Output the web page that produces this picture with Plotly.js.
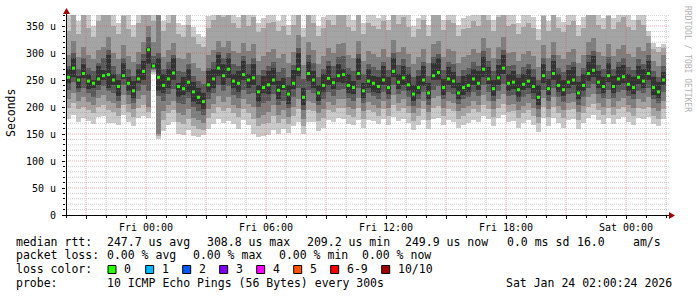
<!DOCTYPE html>
<html><head><meta charset="utf-8">
<script src="https://cdn.plot.ly/plotly-3.0.1.min.js"></script>
<style>html,body{margin:0;padding:0;background:#fff;}#chart{width:697px;height:297px;}</style>
</head><body><div id="chart"></div>
<script>
// time grid: Thu 22 Jan 2026 20:00 onwards, 15-minute consolidated steps
const startUTC = Date.UTC(2026, 0, 22, 20, 0, 0);
const stepMinutes = 15;

const median = [
255,272,250,262,248,244,252,258,260,250,238,258,244,230,252,266,
306,276,255,240,252,263,238,234,246,228,218,210,241,252,272,258,
270,248,244,260,250,254,228,236,241,250,231,238,224,244,270,218,
262,250,226,240,253,245,258,260,240,236,262,230,248,244,238,250,
236,266,246,254,241,224,236,250,226,258,264,236,252,248,226,236,
240,252,244,270,252,234,254,272,244,246,232,242,248,238,218,258,
234,262,240,232,246,250,226,240,262,268,246,238,258,238,252,256,
242,236,255,248,262,236,228,250];

const ping1 = [
178,186,172,180,174,168,182,184,170,170,166,186,172,164,180,184,
180,262,140,156,166,172,150,148,158,146,144,148,160,168,178,170,
174,168,160,176,166,150,144,146,148,158,150,160,152,164,172,150,
172,172,156,162,176,172,180,178,168,166,176,162,176,174,168,178,
166,182,174,178,170,158,166,176,160,178,180,166,176,172,162,166,
170,176,172,184,178,164,180,186,172,174,162,170,176,166,154,180,
164,180,170,162,176,178,160,170,180,186,176,168,180,168,178,182,
172,166,180,178,182,168,164,178];
const ping2 = [
198,208,196,200,194,188,200,204,194,190,184,204,190,182,198,204,
190,265,146,176,188,194,172,168,178,164,160,158,180,188,200,192,
198,188,182,196,188,178,164,168,170,184,170,178,168,184,196,164,
194,192,174,180,194,190,198,198,186,182,198,178,194,190,184,196,
184,204,192,198,188,174,184,196,176,198,202,184,196,192,178,184,
188,196,190,204,196,182,198,206,190,192,180,188,194,184,170,200,
182,200,188,180,194,196,176,188,200,206,194,186,198,186,196,200,
190,184,198,196,200,184,178,196];
const ping3 = [
214,226,212,218,210,204,216,222,212,208,198,222,206,196,214,222,
200,268,150,192,204,212,188,186,196,180,176,170,196,206,220,210,
218,204,198,214,206,200,180,186,190,204,186,194,182,200,214,178,
212,208,188,196,210,204,214,214,200,196,216,192,210,204,198,212,
198,222,208,214,202,188,198,212,190,216,220,198,212,208,192,198,
202,212,204,222,212,196,214,224,204,206,194,202,208,198,182,216,
196,218,202,194,208,210,190,202,218,224,208,200,214,200,212,216,
204,198,214,210,218,198,192,212];
const ping4 = [
232,246,228,236,226,218,232,238,230,226,212,240,222,208,230,240,
230,270,220,212,224,234,208,206,216,200,192,186,214,226,240,230,
238,222,216,232,224,226,200,208,212,224,204,212,198,218,236,194,
232,226,204,214,228,220,232,234,216,212,236,208,226,220,214,228,
214,240,224,230,218,202,214,228,204,232,238,214,228,224,206,214,
218,228,220,240,228,212,230,242,220,222,210,218,224,214,196,232,
212,236,218,210,224,226,204,218,236,242,224,216,232,216,228,232,
220,214,230,226,236,214,208,228];
const ping5 = [
244,256,236,254,234,236,240,250,236,240,220,252,230,216,244,250,
280,273,230,226,236,250,218,222,228,210,206,196,228,236,258,240,
254,236,228,250,236,240,210,226,224,240,214,232,206,234,258,204,
248,236,212,228,240,234,246,244,226,224,250,216,236,228,226,240,
224,256,234,240,230,212,224,238,214,250,250,222,240,236,214,222,
228,240,232,256,242,220,240,262,230,234,218,232,236,226,204,244,
222,250,228,220,236,240,214,230,248,256,236,226,246,226,240,244,
230,224,242,236,250,222,216,240];
const ping6 = [
270,290,258,280,262,250,276,268,296,262,250,282,256,248,270,286,
312,282,290,262,270,290,244,256,270,246,236,226,266,270,296,280,
290,262,266,286,262,280,240,258,266,272,248,254,240,268,300,236,
284,266,240,262,276,254,280,270,262,248,290,244,270,258,256,276,
256,290,262,276,262,240,258,276,244,282,290,252,274,264,244,258,
262,270,266,292,274,250,278,296,262,266,254,262,270,256,240,280,
252,286,262,250,268,274,246,262,284,294,266,256,282,258,274,278,
262,256,276,270,286,256,246,264];
const ping7 = [
276,300,270,290,272,266,282,290,306,276,262,290,270,258,280,298,
330,295,300,270,284,296,266,264,280,258,248,242,272,284,302,290,
300,280,276,294,280,290,260,268,276,284,264,272,256,278,310,252,
296,282,256,270,286,276,292,294,272,266,298,262,280,274,268,284,
268,300,278,288,274,256,268,284,258,292,298,268,284,280,258,268,
272,284,276,304,286,266,288,306,276,278,262,274,280,270,250,290,
266,296,272,264,278,284,258,272,296,304,278,270,292,270,284,290,
274,268,288,280,296,266,256,276];
const ping8 = [
296,322,292,312,296,288,306,312,330,300,288,314,294,284,302,320,
350,320,372,292,306,318,290,288,300,282,272,266,296,306,322,312,
322,304,300,318,304,316,286,294,302,308,290,298,282,302,334,278,
320,306,280,294,310,300,316,318,296,290,322,286,304,298,292,308,
292,324,302,312,298,280,292,308,282,316,322,292,308,304,282,292,
296,308,300,328,310,290,312,330,300,302,286,298,304,294,274,314,
290,320,296,288,302,308,282,296,320,328,302,294,316,294,308,314,
298,292,312,304,318,286,276,296];
const ping9 = [
340,372,336,370,346,330,360,374,390,350,336,368,344,330,356,380,
390,360,390,340,356,374,336,330,352,330,316,312,346,362,380,366,
374,356,346,370,350,366,338,346,356,358,340,350,334,352,384,330,
372,356,332,346,362,352,370,372,348,340,376,336,356,350,344,360,
342,378,354,366,348,330,344,362,332,372,378,342,362,356,332,344,
346,360,350,384,362,340,366,386,350,354,336,348,356,346,324,368,
340,376,346,338,352,360,332,346,376,384,352,344,368,344,358,366,
348,342,362,352,332,308,302,310];
const ping10 = [
372,400,360,390,372,350,380,395,420,378,356,392,374,352,384,410,
400,380,400,360,380,400,356,352,374,348,336,330,368,384,410,390,
400,376,366,392,372,388,356,364,378,380,360,370,352,376,410,346,
398,380,350,366,386,374,392,396,370,362,400,356,380,372,364,384,
362,404,376,390,370,350,364,384,352,396,402,362,384,378,352,364,
368,382,372,410,386,362,390,412,372,376,356,370,378,366,344,392,
360,398,366,358,374,382,352,366,398,408,374,364,390,364,380,388,
370,362,384,372,340,318,312,316];

const yTickVals = [0, 50, 100, 150, 200, 250, 300, 350];
const yTickText = ['0', '50 u', '100 u', '150 u', '200 u', '250 u', '300 u', '350 u'];
const xTickHours = [1, 4, 7, 10, 13, 16, 19, 22, 25, 28];
const xTickText = ['', 'Fri 00:00', '', 'Fri 06:00', '', 'Fri 12:00', '', 'Fri 18:00', '', 'Sat 00:00'];

const legendLines = [
  [['median rtt:', 16], ['247.7 us avg', 107], ['308.8 us max', 207], ['209.2 us min', 307], ['249.9 us now', 405], ['0.0 ms sd', 507], ['16.0', 577], ['am/s', 633]],
  [['packet loss:', 16], ['0.00 % avg', 107], ['0.00 % max', 193], ['0.00 % min', 279], ['0.00 % now', 362]],
  [['loss color:', 16]],
  [['probe:', 16], ['10 ICMP Echo Pings (56 Bytes) every 300s', 107], ['Sat Jan 24 02:00:24 2026', 506]]
];
const lossLabels = ['0', '1', '2', '3', '4', '5', '6-9', '10/10'];
const lossColors = ['#26ff00', '#00b8ff', '#0059ff', '#7e00ff', '#ff00ff', '#ff5500', '#ff0000', '#a10000'];
const lossSwatchX = [108, 145.7, 182.7, 219.7, 256.7, 293.7, 330.7, 381.7];

const smokeColors = ['#cacaca', '#a4a4a4', '#7e7e7e', '#585858', '#323232'];

// ---- layout geometry ----
const W = 697, H = 297, L = 66, R = 669, T = 15, B = 215;
const px = x => (x - L) / (R - L);
const py = y => (B - y) / (B - T);
const HOUR = 3600000;
const stepMs = stepMinutes * 60000;
const xs = median.map((_, i) => startUTC + i * stepMs + stepMs / 2);

const lows = [ping1, ping2, ping3, ping4, ping5];
const highs = [ping10, ping9, ping8, ping7, ping6];
const traces = lows.map((lo, k) => ({
  type: 'bar', x: xs, base: lo, y: lo.map((v, i) => highs[k][i] - v),
  width: stepMs, marker: {color: smokeColors[k], line: {width: 0}},
  hoverinfo: 'skip', showlegend: false
}));
traces.push({
  type: 'scatter', mode: 'markers', x: xs, y: median,
  marker: {symbol: 'square', size: 3, color: '#26ff00', line: {width: 0}},
  showlegend: false, hoverinfo: 'skip'
});

const shapes = [];
const xEnd = startUTC + (R - L) / 20 * HOUR;
for (let h = 1; h <= 30; h++) {
  const red = (h % 3 === 1);
  shapes.push({type: 'line', layer: 'above', xref: 'x', yref: 'paper', x0: startUTC + h * HOUR, x1: startUTC + h * HOUR, y0: 0, y1: 1,
    line: {color: red ? 'rgba(220,70,70,0.45)' : 'rgba(150,150,150,0.5)', width: 1, dash: '1px,1px'}});
}
for (let v = 10; v <= 370; v += 10) {
  const red = (v % 50 === 0);
  shapes.push({type: 'line', layer: 'above', xref: 'paper', yref: 'y', x0: 0, x1: 1, y0: v, y1: v,
    line: {color: red ? 'rgba(220,70,70,0.45)' : 'rgba(150,150,150,0.5)', width: 1, dash: '1px,1px'}});
}
// axis extensions and arrows
shapes.push({type: 'line', layer: 'above', xref: 'paper', yref: 'paper', x0: px(66.5), x1: px(66.5), y0: py(215), y1: py(11), line: {color: '#000', width: 1}});
shapes.push({type: 'line', layer: 'above', xref: 'paper', yref: 'paper', x0: px(62), x1: px(670), y0: py(215.5), y1: py(215.5), line: {color: '#000', width: 1}});
shapes.push({type: 'path', layer: 'above', xref: 'paper', yref: 'paper',
  path: `M ${px(66.5)} ${py(8)} L ${px(63)} ${py(14)} L ${px(70)} ${py(14)} Z`,
  fillcolor: '#a00000', line: {width: 0}});
shapes.push({type: 'path', layer: 'above', xref: 'paper', yref: 'paper',
  path: `M ${px(675)} ${py(215.5)} L ${px(669)} ${py(212)} L ${px(669)} ${py(219)} Z`,
  fillcolor: '#a00000', line: {width: 0}});
// loss colour swatches
lossSwatchX.forEach((x, k) => {
  shapes.push({type: 'rect', layer: 'above', xref: 'paper', yref: 'paper',
    x0: px(x), x1: px(x + 8), y0: py(273.5), y1: py(265.5),
    fillcolor: lossColors[k], line: {color: '#000', width: 1}});
});

const mono = 'DejaVu Sans Mono, monospace';
const annotations = [];
const lineY = [241.5, 255, 269, 282.7];
legendLines.forEach((segs, r) => segs.forEach(([txt, x]) => {
  annotations.push({xref: 'paper', yref: 'paper', x: px(x - 1), y: py(lineY[r]), xanchor: 'left', yanchor: 'middle',
    text: txt, showarrow: false, font: {family: mono, size: 11.5, color: '#000'}, borderpad: 0});
}));
lossLabels.forEach((t, k) => {
  annotations.push({xref: 'paper', yref: 'paper', x: px(lossSwatchX[k] + 15), y: py(269), xanchor: 'left', yanchor: 'middle',
    text: t, showarrow: false, font: {family: mono, size: 11.5, color: '#000'}, borderpad: 0});
});
annotations.push({xref: 'paper', yref: 'paper', x: px(11), y: py(113), xanchor: 'center', yanchor: 'middle', text: 'Seconds', textangle: -90,
  showarrow: false, font: {family: mono, size: 11.5, color: '#000'}});
annotations.push({xref: 'paper', yref: 'paper', x: px(687), y: py(59), xanchor: 'center', yanchor: 'middle', text: 'RRDTOOL / TOBI OETIKER', textangle: 90,
  showarrow: false, font: {family: mono, size: 8, color: '#b0b0b0'}});

const layout = {
  width: W, height: H, margin: {l: L, r: W - R, t: T, b: H - B, pad: 0},
  paper_bgcolor: '#fff', plot_bgcolor: '#fff', barmode: 'overlay', bargap: 0, showlegend: false,
  xaxis: {type: 'date', range: [startUTC, xEnd], tickmode: 'array',
    tickvals: xTickHours.map(h => startUTC + h * HOUR), ticktext: xTickText,
    showgrid: false, zeroline: false, showline: false, ticks: 'outside', ticklen: 3, tickcolor: '#000',
    minor: {dtick: HOUR, ticks: 'outside', ticklen: 2, tickcolor: '#000', showgrid: false},
    tickfont: {family: mono, size: 10, color: '#000'}, fixedrange: true},
  yaxis: {range: [0, 370.4], tickmode: 'array', tickvals: yTickVals, ticktext: yTickText,
    showgrid: false, zeroline: false, showline: false, ticks: 'outside', ticklen: 3, tickcolor: '#000',
    minor: {dtick: 10, ticks: 'outside', ticklen: 2, tickcolor: '#000', showgrid: false},
    tickfont: {family: mono, size: 10, color: '#000'}, ticklabelstandoff: 4, fixedrange: true},
  shapes: shapes, annotations: annotations
};
Plotly.newPlot('chart', traces, layout, {displayModeBar: false, staticPlot: true});
</script></body></html>
